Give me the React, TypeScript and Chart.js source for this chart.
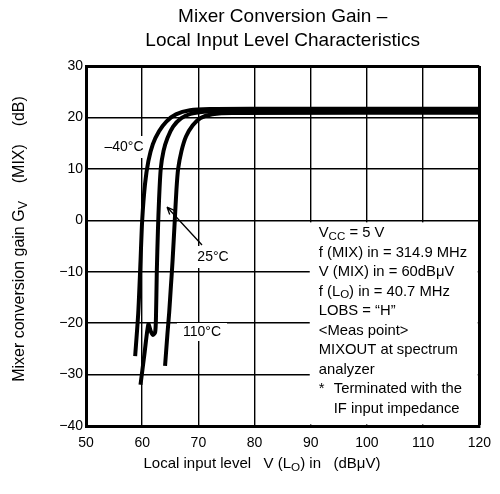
import React, { useEffect, useRef } from "react";
import { Chart, registerables } from "chart.js";
Chart.register(...registerables);

const FONT = '"Liberation Sans", Arial, sans-serif';

const xMin = 50;
const xMax = 120;
const yMin = -40;
const yMax = 30;

// -40°C curve
const curveCold_x = [58.75, 59.3, 59.7, 60.0, 60.5, 61.1, 61.9, 63.0, 64.3, 66.0, 68.5, 72.0, 80.0, 120.0];
const curveCold_y = [-26.4, -18, -8, 0, 7, 11.5, 14.8, 17.3, 19.2, 20.6, 21.4, 21.65, 21.7, 21.7];

// 25°C curve
const curveRoom_x = [59.7, 60.4, 61.1, 61.5, 61.9, 62.3, 62.45, 62.6, 62.8, 63.0, 63.3, 63.8, 64.5, 65.5, 66.9, 68.6, 71.0, 75.0, 120.0];
const curveRoom_y = [-32, -26, -20.2, -21.5, -22.3, -21.8, -19, -10, -2, 4, 10, 13.5, 16, 18.2, 19.8, 20.7, 21.1, 21.3, 21.3];

// 110°C curve
const curveHot_x = [64.07, 64.5, 64.8, 65.1, 65.4, 65.8, 66.1, 66.4, 67.0, 67.8, 69.0, 70.4, 72.5, 76.0, 120.0];
const curveHot_y = [-28.3, -22, -18, -13, -8, 0, 6, 10, 13.5, 16.3, 18.5, 19.9, 20.6, 20.85, 20.9];

type Seg = { t: string; sub?: boolean };

function toPts(xs: number[], ys: number[]) {
  return xs.map((x, i) => ({ x, y: ys[i] }));
}

function drawRich(ctx: CanvasRenderingContext2D, segs: Seg[], x: number, y: number, size: number, align: "left" | "center") {
  const subSize = size * 0.78;
  let total = 0;
  const widths = segs.map((s) => {
    ctx.font = `${s.sub ? subSize : size}px ${FONT}`;
    const w = ctx.measureText(s.t).width;
    total += w;
    return w;
  });
  let cx = align === "center" ? x - total / 2 : x;
  ctx.textAlign = "left";
  ctx.textBaseline = "middle";
  segs.forEach((s, i) => {
    ctx.font = `${s.sub ? subSize : size}px ${FONT}`;
    ctx.fillText(s.t, cx, s.sub ? y + size * 0.22 : y);
    cx += widths[i];
  });
}

const annotPlugin = {
  id: "annot",
  afterDatasetsDraw(chart: any) {
    const ctx: CanvasRenderingContext2D = chart.ctx;
    const xs = chart.scales.x;
    const ys = chart.scales.y;
    const ca = chart.chartArea;
    ctx.save();

    // info box
    const bx0 = xs.getPixelForValue(90) - 1;
    const by0 = ys.getPixelForValue(-0.4);
    const bx1 = xs.getPixelForValue(120) - 1.6;
    const by1 = ys.getPixelForValue(-40) - 1.6;
    ctx.fillStyle = "#fff";
    ctx.fillRect(bx0, by0, bx1 - bx0, by1 - by0);
    ctx.fillStyle = "#000";
    const tx = bx0 + 9;
    const lines: Seg[][] = [
      [{ t: "V" }, { t: "CC", sub: true }, { t: " = 5 V" }],
      [{ t: "f (MIX) in = 314.9 MHz" }],
      [{ t: "V (MIX) in = 60dBμV" }],
      [{ t: "f (L" }, { t: "O", sub: true }, { t: ") in = 40.7 MHz" }],
      [{ t: "LOBS = “H”" }],
      [{ t: "<Meas point>" }],
      [{ t: "MIXOUT at spectrum" }],
      [{ t: "analyzer" }],
    ];
    const startY = by0 + 11;
    const lh = 19.5;
    const fs = 14.8;
    lines.forEach((ln, i) => drawRich(ctx, ln, tx, startY + i * lh, fs, "left"));
    ctx.font = `${fs}px ${FONT}`;
    ctx.textAlign = "left";
    ctx.textBaseline = "middle";
    ctx.fillText("*", tx, startY + 8 * lh);
    drawRich(ctx, [{ t: "Terminated with the" }], tx + 15, startY + 8 * lh, fs, "left");
    drawRich(ctx, [{ t: "IF input impedance" }], tx + 15, startY + 9 * lh, fs, "left");

    // curve labels with white backgrounds
    const label = (t: string, cx: number, cy: number, w: number, h: number) => {
      ctx.fillStyle = "#fff";
      ctx.fillRect(cx - w / 2, cy - h / 2, w, h);
      ctx.fillStyle = "#000";
      ctx.font = `14px ${FONT}`;
      ctx.textAlign = "center";
      ctx.textBaseline = "middle";
      ctx.fillText(t, cx, cy);
    };
    label("–40°C", 124, 147, 38, 22);
    label("25°C", 213, 257, 40, 22);
    label("110°C", 202, 332, 50, 18);

    // arrow
    ctx.strokeStyle = "#000";
    ctx.lineWidth = 1.3;
    const ax0 = 202, ay0 = 245, ax1 = 167, ay1 = 207;
    ctx.beginPath();
    ctx.moveTo(ax0, ay0);
    ctx.lineTo(ax1, ay1);
    const ang = Math.atan2(ay1 - ay0, ax1 - ax0);
    const hl = 8;
    ctx.moveTo(ax1, ay1);
    ctx.lineTo(ax1 - hl * Math.cos(ang - 0.4), ay1 - hl * Math.sin(ang - 0.4));
    ctx.moveTo(ax1, ay1);
    ctx.lineTo(ax1 - hl * Math.cos(ang + 0.4), ay1 - hl * Math.sin(ang + 0.4));
    ctx.stroke();

    // titles
    ctx.fillStyle = "#000";
    const midX = (ca.left + ca.right) / 2;
    ctx.font = `19px ${FONT}`;
    ctx.textAlign = "center";
    ctx.textBaseline = "middle";
    ctx.fillText("Mixer Conversion Gain –", midX, 17);
    ctx.fillText("Local Input Level Characteristics", midX, 41);

    // x axis title
    drawRich(
      ctx,
      [{ t: "Local input level   V (L" }, { t: "O", sub: true }, { t: ") in   (dBμV)" }],
      262,
      464,
      15,
      "center"
    );

    // y axis title
    ctx.save();
    ctx.translate(20, 239);
    ctx.rotate(-Math.PI / 2);
    drawRich(
      ctx,
      [{ t: "Mixer conversion gain G" }, { t: "V", sub: true }, { t: "    (MIX)    (dB)" }],
      0,
      0,
      16,
      "center"
    );
    ctx.restore();

    ctx.restore();
  },
};

export default function App() {
  const ref = useRef<HTMLCanvasElement>(null);
  useEffect(() => {
    document.body.style.margin = "0";
    const ds = (xs: number[], ys: number[]) => ({
      data: toPts(xs, ys),
      showLine: true,
      borderColor: "#000",
      backgroundColor: "#000",
      borderWidth: 4,
      pointRadius: 0,
      tension: 0.25,
      fill: false,
    });
    const chart = new Chart(ref.current!, {
      type: "scatter",
      data: {
        datasets: [
          ds(curveCold_x, curveCold_y),
          ds(curveRoom_x, curveRoom_y),
          ds(curveHot_x, curveHot_y),
        ],
      },
      options: {
        animation: false,
        responsive: false,
        devicePixelRatio: 1,
        layout: { padding: { top: 66, right: 12, bottom: 0, left: 0 } },
        plugins: { legend: { display: false }, tooltip: { enabled: false }, title: { display: false } },
        scales: {
          x: {
            type: "linear",
            min: xMin,
            max: xMax,
            afterFit: (s: any) => {
              s.height = 68;
            },
            ticks: {
              stepSize: 10,
              color: "#000",
              font: { family: FONT, size: 14 },
              padding: 9,
            },
            grid: {
              color: "#000",
              drawTicks: false,
              lineWidth: (c: any) => (c.tick && c.tick.value === xMax ? 3 : 1.4),
            },
            border: { display: true, color: "#000", width: 3 },
          },
          y: {
            type: "linear",
            min: yMin,
            max: yMax,
            afterFit: (s: any) => {
              s.width = 86;
            },
            ticks: {
              stepSize: 10,
              color: "#000",
              font: { family: FONT, size: 14 },
              padding: 3,
              callback: (v: any) => (Number(v) < 0 ? "−" + Math.abs(Number(v)) : String(v)),
            },
            grid: {
              color: "#000",
              drawTicks: false,
              lineWidth: (c: any) => (c.tick && c.tick.value === yMax ? 3 : 1.4),
            },
            border: { display: true, color: "#000", width: 3 },
          },
        },
      },
      plugins: [annotPlugin],
    });
    return () => chart.destroy();
  }, []);
  return <canvas ref={ref} width={500} height={494} style={{ display: "block" }} />;
}
